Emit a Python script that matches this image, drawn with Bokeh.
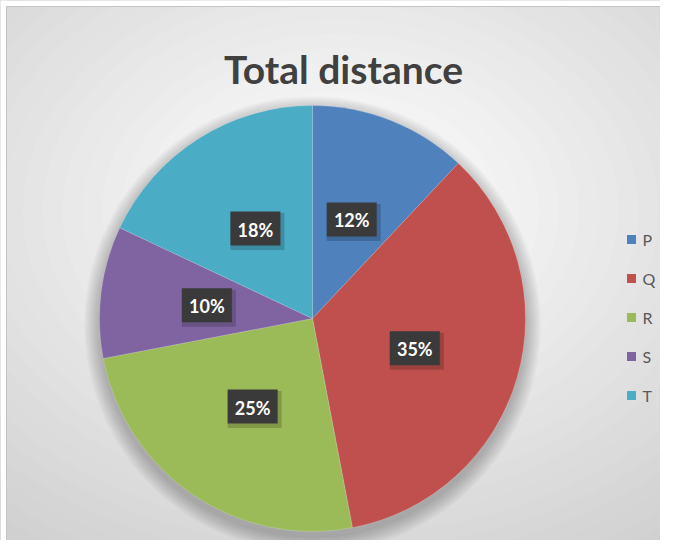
import math
from bokeh.plotting import figure
from bokeh.models import Range1d, ColumnDataSource
from bokeh.core.properties import value
from bokeh.embed import file_html
from bokeh.resources import INLINE

# ---- data ----
categories = ["P", "Q", "R", "S", "T"]
shares = [12, 35, 25, 10, 18]
colors = ["#4F81BD", "#C0504D", "#9BBB59", "#8064A2", "#4BACC6"]
title_text = "Total distance"

W, H = 660, 540
p = figure(width=W, height=H, output_backend="svg", toolbar_location=None,
           x_range=Range1d(0, W), y_range=Range1d(0, H), min_border=0)
p.axis.visible = False
p.grid.visible = False
p.outline_line_color = None
p.background_fill_color = "#cfcfcf"
p.border_fill_color = "#ffffff"

def px(x):
    return x
def py(y):
    return H - y

# ---- radial gradient background ----
gcx, gcy = px(340), py(210)
N = 30
c_out, c_in = (0xc9, 0xc9, 0xc9), (0xfc, 0xfc, 0xfc)
for i in range(N):
    t = i / (N - 1)
    col = tuple(int(round(c_out[k] + (c_in[k] - c_out[k]) * t)) for k in range(3))
    w = 1150 * (1 - t) + 120
    h = 850 * (1 - t) + 90
    p.ellipse(x=[gcx], y=[gcy], width=[w], height=[h],
              fill_color="#%02x%02x%02x" % col, line_color=None)

# outer white margin and frame line of the chart area
p.quad(left=[0, 0], right=[5.5, W], bottom=[0, py(5.5)], top=[H, H],
       fill_color="#ffffff", line_color=None)
p.line(x=[px(6), px(6), W], y=[0, py(6), py(6)], line_color="#c4c4c4", line_width=1)

# ---- title ----
p.text(x=[px(343)], y=[py(68)], text=[title_text], text_align="center",
       text_baseline="alphabetic", text_font=value("Lato"), text_font_style="bold",
       text_font_size="39px", text_color="#404040")

# ---- pie ----
cx, cy, r = px(312), py(318), 213
# soft shadow
for k in range(8):
    p.circle(x=[cx], y=[cy - 6], radius=r + 1 + k * 2, fill_color="#000000",
             fill_alpha=0.03, line_color=None)

total = float(sum(shares))
starts, ends, mids = [], [], []
acc = 0.0
for s in shares:
    a0 = math.pi / 2 - 2 * math.pi * acc / total
    acc += s
    a1 = math.pi / 2 - 2 * math.pi * acc / total
    starts.append(a0)
    ends.append(a1)
    mids.append((a0 + a1) / 2)

src = ColumnDataSource(dict(start=starts, end=ends, color=colors, cat=categories))
p.wedge(x=cx, y=cy, radius=r, start_angle="start", end_angle="end",
        direction="clock", fill_color="color", line_color="#ffffff",
        line_width=0.5, line_alpha=0.35, source=src)

# ---- data labels ----
lr = 0.5 * r
lx = [cx + lr * math.cos(m) for m in mids]
ly = [cy + lr * math.sin(m) for m in mids]
labels = ["%d%%" % s for s in shares]
p.rect(x=[v + 2 for v in lx], y=[v - 3 for v in ly], width=54, height=37,
       fill_color="#000000", fill_alpha=0.18, line_color=None)
p.rect(x=lx, y=ly, width=50, height=34, fill_color="#3a3a3a", line_color=None)
p.text(x=lx, y=[v - 1 for v in ly], text=labels, text_align="center",
       text_baseline="middle", text_font=value("Lato"), text_font_style="bold",
       text_font_size="18px", text_color="#ffffff")

# ---- legend ----
lgx = [px(631)] * len(categories)
lgy = [py(239 + 39 * i) for i in range(len(categories))]
p.scatter(x=lgx, y=lgy, marker="square", size=9, fill_color=colors, line_color=None)
p.text(x=[v + 11 for v in lgx], y=lgy, text=categories, text_align="left",
       text_baseline="middle", text_font=value("Lato"), text_font_size="16px",
       text_color="#595959")

open("out.html", "w").write(file_html(p, INLINE))
